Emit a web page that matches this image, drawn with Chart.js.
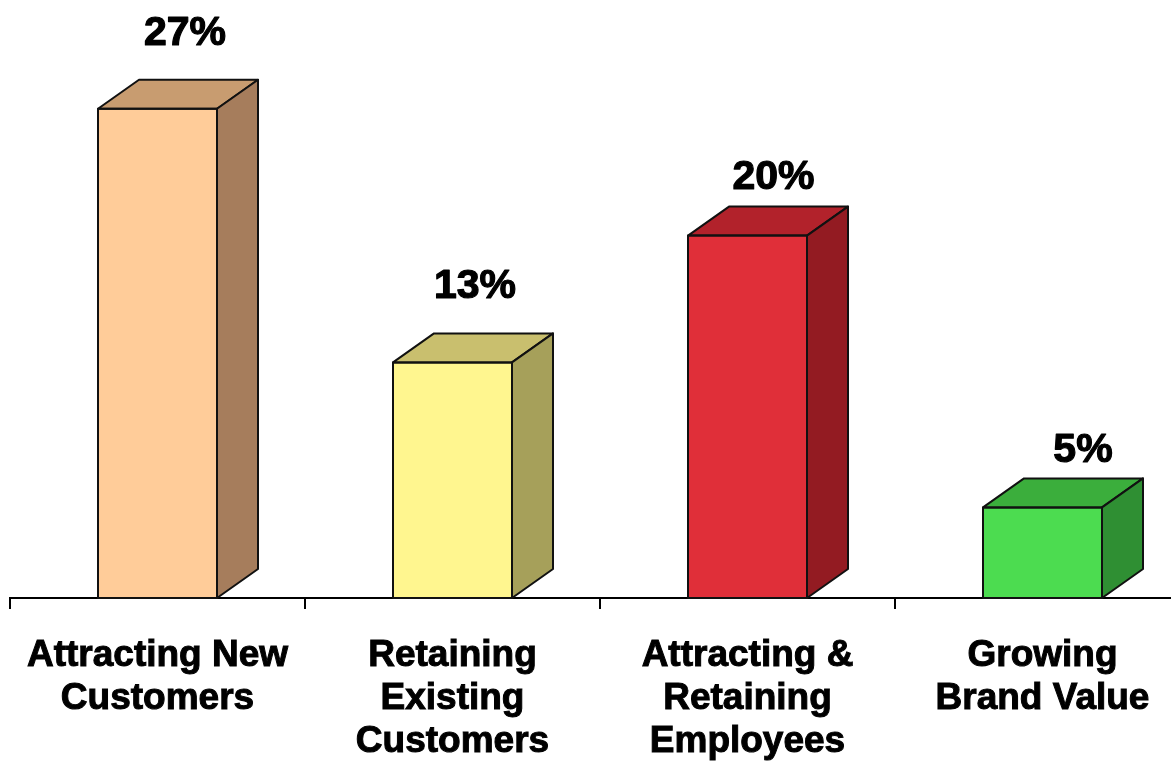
<!DOCTYPE html>
<html>
<head>
<meta charset="utf-8">
<script src="https://cdn.jsdelivr.net/npm/chart.js@4/dist/chart.umd.min.js"></script>
<style>
  html, body { margin: 0; padding: 0; background: #ffffff; overflow: hidden; }
  #wrap { width: 1171px; height: 763px; overflow: hidden; position: relative; }
  canvas { display: block; }
</style>
</head>
<body>
<div id="wrap"><canvas id="chart" width="1190" height="763"></canvas></div>
<script>
// Categories (multi-line axis labels)
const categories = [
  ['Attracting New', 'Customers'],
  ['Retaining', 'Existing', 'Customers'],
  ['Attracting &', 'Retaining', 'Employees'],
  ['Growing', 'Brand Value']
];
// Share of respondents, percent
const values = [27, 13, 20, 5];
const valueLabels = ['27%', '13%', '20%', '5%'];

// Face colours for the 3D boxes
const frontColors = ['#FFCC99', '#FFF68F', '#E02F39', '#4CDC50'];
const topColors   = ['#C89C70', '#C9BF6E', '#B2222B', '#3BAE3C'];
const sideColors  = ['#A67D5C', '#A6A05A', '#931B22', '#2F8F33'];

const DEPTH_X = 41, DEPTH_Y = 29;

// Draws the top and right faces of every bar, then the value labels
const boxPlugin = {
  id: 'box3d',
  afterDatasetsDraw(chart, args, opts) {
    const ctx = chart.ctx;
    const meta = chart.getDatasetMeta(0);
    meta.data.forEach((bar, i) => {
      const p = bar.getProps(['x', 'y', 'base', 'width'], true);
      const x0 = p.x - p.width / 2, x1 = p.x + p.width / 2;
      const top = p.y, base = p.base;
      ctx.save();
      ctx.lineWidth = 2;
      ctx.strokeStyle = '#111111';
      ctx.lineJoin = 'round';
      // top face
      ctx.beginPath();
      ctx.moveTo(x0, top);
      ctx.lineTo(x0 + DEPTH_X, top - DEPTH_Y);
      ctx.lineTo(x1 + DEPTH_X, top - DEPTH_Y);
      ctx.lineTo(x1, top);
      ctx.closePath();
      ctx.fillStyle = topColors[i];
      ctx.fill();
      ctx.stroke();
      // side face
      ctx.beginPath();
      ctx.moveTo(x1, top);
      ctx.lineTo(x1 + DEPTH_X, top - DEPTH_Y);
      ctx.lineTo(x1 + DEPTH_X, base - DEPTH_Y);
      ctx.lineTo(x1, base);
      ctx.closePath();
      ctx.fillStyle = sideColors[i];
      ctx.fill();
      ctx.stroke();
      // front outline
      ctx.strokeRect(x0, top, p.width, base - top);
      ctx.restore();

      // value label
      const off = opts.offsets[i];
      ctx.save();
      ctx.font = 'bold 41px "Liberation Sans", Arial, sans-serif';
      ctx.fillStyle = '#000000';
      ctx.strokeStyle = '#000000';
      ctx.lineWidth = 1.2;
      ctx.lineJoin = 'round';
      ctx.textAlign = 'center';
      ctx.textBaseline = 'alphabetic';
      ctx.fillText(valueLabels[i], p.x + off[0], top + off[1]);
      ctx.strokeText(valueLabels[i], p.x + off[0], top + off[1]);
      ctx.restore();
    });
  }
};

new Chart(document.getElementById('chart'), {
  type: 'bar',
  data: {
    labels: categories,
    datasets: [{
      data: values,
      backgroundColor: frontColors,
      borderWidth: 0,
      barThickness: 119
    }]
  },
  options: {
    responsive: false,
    devicePixelRatio: 1,
    animation: false,
    layout: { padding: { left: 10, top: 0, right: 0, bottom: 0 } },
    plugins: {
      legend: { display: false },
      tooltip: { enabled: false },
      box3d: { offsets: [[27.5, -64], [22.5, -64], [26, -47], [40.5, -45]] }
    },
    scales: {
      y: {
        display: false,
        min: 0,
        max: 33
      },
      x: {
        afterFit(scale) { scale.height = 165; },
        border: { display: true, color: '#000000', width: 2 },
        grid: {
          drawOnChartArea: false,
          drawTicks: true,
          tickLength: 11,
          color: '#000000',
          lineWidth: 2,
          offset: true
        },
        ticks: {
          color: '#000000',
          textStrokeColor: '#000000',
          textStrokeWidth: 1,
          padding: 25,
          maxRotation: 0,
          autoSkip: false,
          font: { family: '"Liberation Sans", Arial, sans-serif', weight: 'bold', size: 37, lineHeight: 43 / 37 }
        }
      }
    }
  },
  plugins: [boxPlugin]
});
</script>
</body>
</html>
